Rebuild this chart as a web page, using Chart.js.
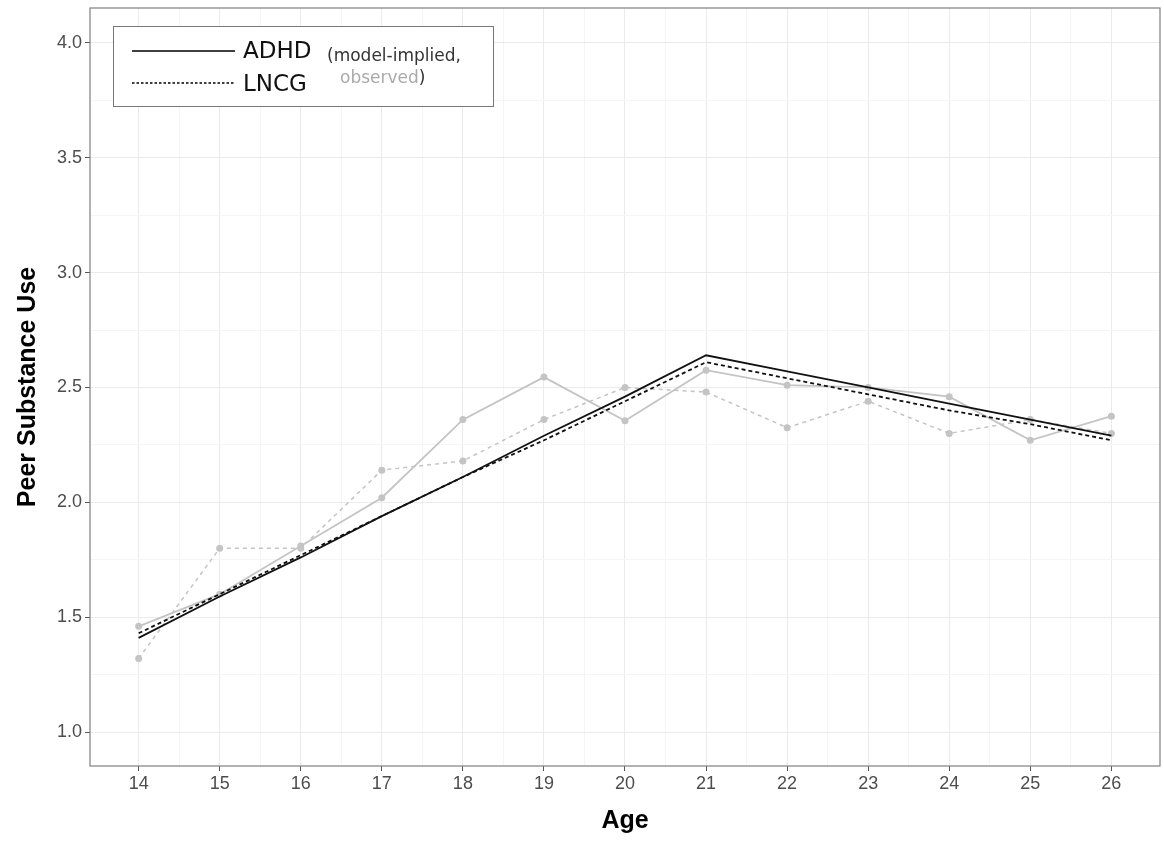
<!DOCTYPE html>
<html>
<head>
<meta charset="utf-8">
<script src="https://cdn.jsdelivr.net/npm/chart.js@4.4.1/dist/chart.umd.min.js"></script>
<style>
  html, body { margin: 0; padding: 0; background: #fff; }
  #wrap { width: 1164px; height: 842px; position: relative; }
</style>
</head>
<body>
<div id="wrap"><canvas id="myChart" width="1164" height="842"></canvas></div>
<script>
// data
const ages = [14, 15, 16, 17, 18, 19, 20, 21, 22, 23, 24, 25, 26];
const adhdModel = [1.41, 1.59, 1.76, 1.94, 2.11, 2.29, 2.46, 2.64, 2.57, 2.50, 2.43, 2.36, 2.29];
const lncgModel = [1.43, 1.60, 1.77, 1.94, 2.11, 2.27, 2.44, 2.61, 2.54, 2.47, 2.40, 2.34, 2.27];
const adhdObserved = [1.46, 1.60, 1.81, 2.02, 2.36, 2.545, 2.355, 2.575, 2.51, 2.50, 2.46, 2.27, 2.375];
const lncgObserved = [1.32, 1.80, 1.80, 2.14, 2.18, 2.36, 2.50, 2.48, 2.325, 2.44, 2.30, 2.36, 2.30];
const yTicks = [1.0, 1.5, 2.0, 2.5, 3.0, 3.5, 4.0];
const xTicks = ages;

const toPts = (vals) => vals.map((v, i) => ({ x: ages[i], y: v }));

function isMajor(list, v) {
    return list.some(t => Math.abs(t - v) < 1e-6);
}

const panelBorder = {
    id: 'panelBorder',
    afterDraw(chart) {
        const a = chart.chartArea;
        const c = chart.ctx;
        c.save();
        c.strokeStyle = '#7f7f7f';
        c.lineWidth = 1.2;
        c.strokeRect(a.left, a.top, a.right - a.left, a.bottom - a.top);
        c.restore();
    }
};

const legendBox = {
    id: 'legendBox',
    afterDraw(chart) {
        const c = chart.ctx;
        c.save();
        c.fillStyle = '#fff';
        c.fillRect(113, 26, 380, 80);
        c.strokeStyle = '#777';
        c.lineWidth = 1;
        c.strokeRect(113.5, 26.5, 380, 80);

        c.strokeStyle = '#000';
        c.lineWidth = 1.5;
        c.beginPath(); c.moveTo(132, 51); c.lineTo(235, 51); c.stroke();
        c.setLineDash([2.5, 2]);
        c.beginPath(); c.moveTo(132, 83); c.lineTo(235, 83); c.stroke();
        c.setLineDash([]);

        c.textBaseline = 'middle';
        c.fillStyle = '#111';
        c.font = '23px "DejaVu Sans"';
        c.fillText('ADHD', 243, 52);
        c.fillText('LNCG', 243, 85);

        c.font = '17px "DejaVu Sans"';
        c.fillStyle = '#333';
        c.fillText('(model-implied,', 327, 57);
        c.fillStyle = '#aaa';
        c.fillText('observed', 340, 79);
        const w = c.measureText('observed').width;
        c.fillStyle = '#333';
        c.fillText(')', 340 + w, 79);
        c.restore();
    }
};

const ctx = document.getElementById('myChart').getContext('2d');
const myChart = new Chart(ctx, {
    type: 'line',
    data: {
        datasets: [{
            label: 'ADHD model-implied',
            data: toPts(adhdModel),
            borderColor: '#111',
            borderWidth: 1.8,
            pointRadius: 0,
            order: 0
        }, {
            label: 'LNCG model-implied',
            data: toPts(lncgModel),
            borderColor: '#111',
            borderWidth: 1.8,
            borderDash: [4, 3],
            pointRadius: 0,
            order: 0
        }, {
            label: 'ADHD observed',
            data: toPts(adhdObserved),
            borderColor: '#c4c4c4',
            backgroundColor: '#c4c4c4',
            borderWidth: 1.8,
            pointRadius: 3.5,
            pointBorderWidth: 0,
            order: 1
        }, {
            label: 'LNCG observed',
            data: toPts(lncgObserved),
            borderColor: '#c4c4c4',
            backgroundColor: '#c4c4c4',
            borderWidth: 1.5,
            borderDash: [4, 4],
            pointRadius: 3.5,
            pointBorderWidth: 0,
            order: 1
        }]
    },
    options: {
        responsive: false,
        animation: false,
        layout: { padding: { top: 8, right: 2, left: 0, bottom: 0 } },
        plugins: {
            legend: { display: false },
            tooltip: { enabled: false }
        },
        scales: {
            x: {
                type: 'linear',
                min: 13.4,
                max: 26.6,
                afterFit: (s) => { s.height = 76; s.paddingLeft = 0; s.paddingRight = 0; },
                afterBuildTicks: (s) => {
                    const t = [];
                    for (let v = 14; v <= 26; v += 0.5) t.push({ value: v });
                    s.ticks = t;
                },
                ticks: {
                    padding: 2,
                    color: '#4d4d4d',
                    font: { family: '"Liberation Sans"', size: 18 },
                    callback: (v) => isMajor(xTicks, v) ? String(v) : '',
                    maxRotation: 0,
                    autoSkip: false
                },
                grid: {
                    color: (c) => isMajor(xTicks, c.tick.value) ? '#ebebeb' : '#f5f5f5',
                    tickColor: (c) => isMajor(xTicks, c.tick.value) ? '#555' : 'rgba(0,0,0,0)',
                    tickLength: 5,
                    lineWidth: 1
                },
                border: { display: false },
                title: {
                    display: true,
                    text: 'Age',
                    color: '#000',
                    font: { family: '"Liberation Sans"', size: 25, weight: 'bold' },
                    padding: { top: 0, bottom: 6 }
                }
            },
            y: {
                min: 0.852,
                max: 4.152,
                afterFit: (s) => { s.width = 90; s.paddingTop = 0; s.paddingBottom = 0; },
                afterBuildTicks: (s) => {
                    const t = [];
                    for (let v = 1; v <= 4.0001; v += 0.25) t.push({ value: Math.round(v * 100) / 100 });
                    s.ticks = t;
                },
                ticks: {
                    padding: 3,
                    color: '#4d4d4d',
                    font: { family: '"Liberation Sans"', size: 18 },
                    callback: (v) => isMajor(yTicks, v) ? v.toFixed(1) : ''
                },
                grid: {
                    color: (c) => isMajor(yTicks, c.tick.value) ? '#ebebeb' : '#f5f5f5',
                    tickColor: (c) => isMajor(yTicks, c.tick.value) ? '#555' : 'rgba(0,0,0,0)',
                    tickLength: 5,
                    lineWidth: 1
                },
                border: { display: false },
                title: {
                    display: true,
                    text: 'Peer Substance Use',
                    color: '#000',
                    font: { family: '"Liberation Sans"', size: 25, weight: 'bold' },
                    padding: { top: 13, bottom: 0 }
                }
            }
        }
    },
    plugins: [panelBorder, legendBox]
});
</script>
</body>
</html>
